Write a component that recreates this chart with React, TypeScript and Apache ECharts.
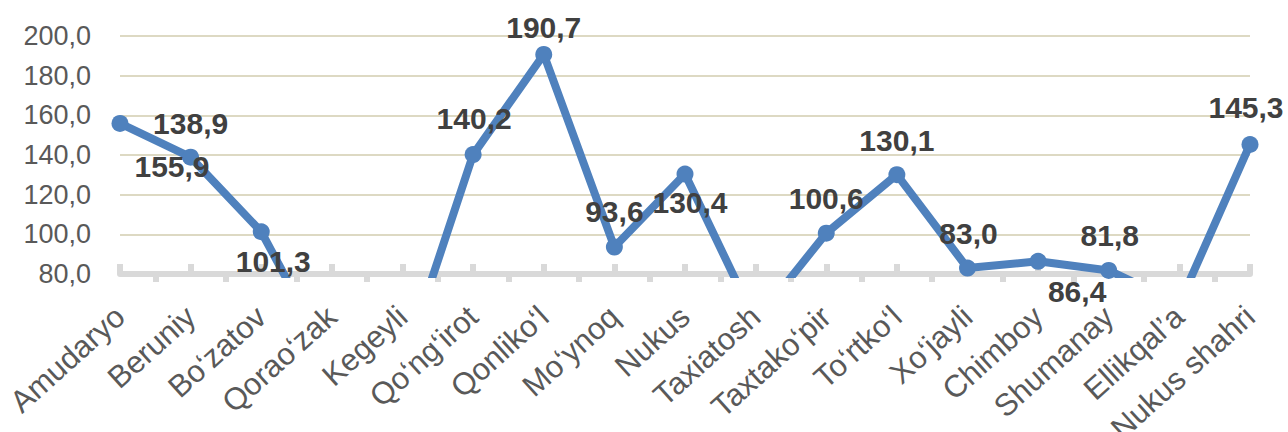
import React, { useEffect, useRef } from "react";
import * as echarts from "echarts";

const categories = [
  "Amudaryo", "Beruniy", "Bo‘zatov", "Qorao‘zak", "Kegeyli", "Qo‘ng‘irot",
  "Qonliko‘l", "Mo‘ynoq", "Nukus", "Taxiatosh", "Taxtako‘pir", "To‘rtko‘l",
  "Xo‘jayli", "Chimboy", "Shumanay", "Ellikqal’a", "Nukus shahri",
];
const values = [
  155.9, 138.9, 101.3, 35.0, 33.0, 140.2, 190.7, 93.6, 130.4, 56.0,
  100.6, 130.1, 83.0, 86.4, 81.8, 65.0, 145.3,
];
const Y_MIN = 80;
const Y_MAX = 200;
const Y_STEP = 20;
// label placement (offset from point, in px), as in the reference layout
const labelOffsets: [number, number][] = [
  [52, 43], [0, -34], [12, 30], [0, 0], [0, 0], [1, -36], [0, -27], [0, -36],
  [5, 28], [0, 0], [0, -35], [0, -34], [1, -35], [39, 30], [1, -35], [0, 0], [-4, -37],
];

const fmt = (v: number) => v.toFixed(1).replace(".", ",");

export default function App() {
  const ref = useRef<HTMLDivElement>(null);
  useEffect(() => {
    if (!ref.current) return;
    const chart = echarts.init(ref.current, undefined, { renderer: "svg" });
    const font = "'Liberation Sans', Arial, sans-serif";
    chart.setOption({
      animation: false,
      backgroundColor: "#ffffff",
      textStyle: { fontFamily: font },
      grid: {
        left: 120, right: 38, top: 36, bottom: 158,
        containLabel: false, outerBoundsMode: "none",
      },
      xAxis: [
        {
          type: "category",
          data: categories,
          boundaryGap: false,
          position: "bottom",
          axisLine: { show: true, lineStyle: { color: "#d9d9d9", width: 6 } },
          axisTick: { show: true, inside: true, length: 10, lineStyle: { color: "#d9d9d9", width: 6 } },
          axisLabel: {
            show: true,
            interval: 0,
            rotate: 42,
            margin: 38,
            fontSize: 31,
            color: "#595959",
            fontFamily: font,
          },
          splitLine: { show: false },
        },
        {
          type: "category",
          data: categories.slice(1).map(() => ""),
          boundaryGap: true,
          position: "bottom",
          axisLine: { show: false },
          axisTick: { show: true, alignWithLabel: true, inside: false, length: 8, lineStyle: { color: "#d9d9d9", width: 6 } },
          axisLabel: { show: false },
          splitLine: { show: false },
        },
      ],
      yAxis: {
        type: "value",
        min: Y_MIN,
        max: Y_MAX,
        interval: Y_STEP,
        axisLine: { show: false },
        axisTick: { show: false },
        axisLabel: {
          margin: 29,
          fontSize: 27,
          color: "#595959",
          fontFamily: font,
          formatter: (v: number) => fmt(v),
        },
        splitLine: { show: true, lineStyle: { color: "#ddd9c3", width: 2 } },
      },
      series: [
        {
          type: "line",
          xAxisIndex: 0,
          yAxisIndex: 0,
          clip: true,
          symbol: "circle",
          symbolSize: 17,
          lineStyle: { color: "#4f81bd", width: 8 },
          itemStyle: { color: "#4f81bd" },
          label: {
            show: true,
            position: "inside",
            fontSize: 30,
            fontWeight: "bold",
            color: "#404040",
            fontFamily: font,
            formatter: (p: any) => fmt(p.value),
          },
          data: values.map((v, i) => ({
            value: v,
            label: { show: v >= Y_MIN, offset: labelOffsets[i] },
          })),
          z: 3,
        },
      ],
    });
    return () => chart.dispose();
  }, []);
  return (
    <div
      ref={ref}
      style={{ position: "fixed", left: 0, top: 0, width: 1288, height: 432 }}
    />
  );
}
